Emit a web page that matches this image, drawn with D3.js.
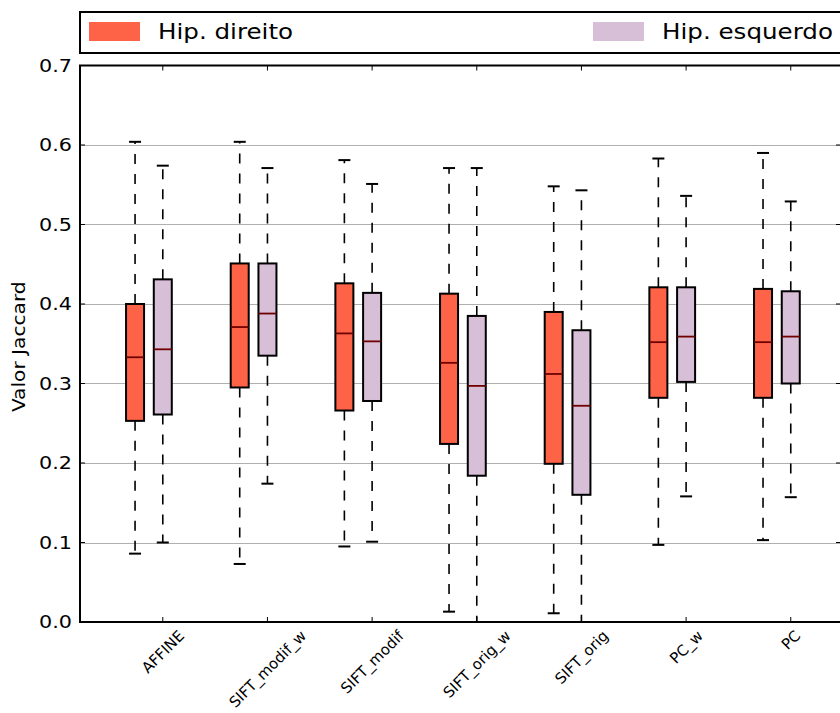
<!DOCTYPE html>
<html>
<head>
<meta charset="utf-8">
<script src="https://cdn.jsdelivr.net/npm/d3@7"></script>
<style>
  html, body { margin: 0; padding: 0; background: #fff; overflow: hidden; }
  text { font-family: "DejaVu Sans", sans-serif; fill: #000; }
</style>
</head>
<body>
<div id="chart"></div>
<script>
'use strict';

// categories on the x axis
var categories = ['AFFINE', 'SIFT_modif_w', 'SIFT_modif', 'SIFT_orig_w', 'SIFT_orig', 'PC_w', 'PC'];

// Hip. direito (right hemisphere) box stats
var direitoLow    = [0.086, 0.073, 0.095, 0.013, 0.011, 0.097, 0.103];
var direitoQ1     = [0.253, 0.295, 0.266, 0.224, 0.199, 0.282, 0.282];
var direitoMedian = [0.333, 0.371, 0.363, 0.326, 0.312, 0.352, 0.352];
var direitoQ3     = [0.400, 0.451, 0.426, 0.413, 0.390, 0.421, 0.419];
var direitoHigh   = [0.604, 0.604, 0.581, 0.571, 0.548, 0.583, 0.590];

// Hip. esquerdo (left hemisphere) box stats
var esquerdoLow    = [0.100, 0.174, 0.101, 0.000, 0.000, 0.158, 0.157];
var esquerdoQ1     = [0.261, 0.335, 0.278, 0.184, 0.160, 0.302, 0.300];
var esquerdoMedian = [0.343, 0.388, 0.353, 0.297, 0.272, 0.359, 0.359];
var esquerdoQ3     = [0.431, 0.451, 0.414, 0.385, 0.367, 0.421, 0.416];
var esquerdoHigh   = [0.574, 0.571, 0.551, 0.571, 0.543, 0.536, 0.529];

var yTicks = [0.0, 0.1, 0.2, 0.3, 0.4, 0.5, 0.6, 0.7];
var seriesNames = ['Hip. direito', 'Hip. esquerdo'];

var moduleJaccardBoxplot = (function() {

    var init = function() {
        var width = 840, height = 713;
        var left = 80, right = 841, top = 65.5, bottom = 622;

        var svg = d3.select('#chart').append('svg')
            .attr('width', width)
            .attr('height', height);

        var y = d3.scaleLinear().domain([0, 0.7]).range([bottom, top]);
        // one unit per category, ticks sit on the second box of each pair
        var x = d3.scaleLinear().domain([-0.791, 6.48]).range([left, right]);

        var colors = ['#ff6347', '#d8bfd8'];
        var offsets = [-0.265, 0];
        var boxW = 18, capW = 12;

        // grid
        svg.append('g').selectAll('line')
            .data(yTicks.slice(1, -1))
            .enter().append('line')
            .attr('x1', left).attr('x2', right)
            .attr('y1', function(d) { return Math.round(y(d)) + 0.5; })
            .attr('y2', function(d) { return Math.round(y(d)) + 0.5; })
            .attr('stroke', '#b0b0b0')
            .attr('stroke-width', 1);

        var series = [
            { low: direitoLow, q1: direitoQ1, med: direitoMedian, q3: direitoQ3, high: direitoHigh },
            { low: esquerdoLow, q1: esquerdoQ1, med: esquerdoMedian, q3: esquerdoQ3, high: esquerdoHigh }
        ];

        series.forEach(function(s, si) {
            var g = svg.append('g');
            categories.forEach(function(c, i) {
                var cx = x(i + offsets[si]);
                // whiskers
                [[s.q3[i], s.high[i]], [s.q1[i], s.low[i]]].forEach(function(w) {
                    g.append('line')
                        .attr('x1', cx).attr('x2', cx)
                        .attr('y1', y(w[0])).attr('y2', y(w[1]))
                        .attr('stroke', '#000')
                        .attr('stroke-width', 1.6)
                        .attr('stroke-dasharray', '10,10');
                    g.append('line')
                        .attr('x1', cx - capW / 2).attr('x2', cx + capW / 2)
                        .attr('y1', y(w[1])).attr('y2', y(w[1]))
                        .attr('stroke', '#000')
                        .attr('stroke-width', 2);
                });
                g.append('rect')
                    .attr('x', cx - boxW / 2)
                    .attr('y', y(s.q3[i]))
                    .attr('width', boxW)
                    .attr('height', y(s.q1[i]) - y(s.q3[i]))
                    .attr('fill', colors[si])
                    .attr('stroke', '#000')
                    .attr('stroke-width', 2);
                g.append('line')
                    .attr('x1', cx - boxW / 2).attr('x2', cx + boxW / 2)
                    .attr('y1', y(s.med[i])).attr('y2', y(s.med[i]))
                    .attr('stroke', '#6e0000')
                    .attr('stroke-width', 1.8);
            });
        });

        // spines
        svg.append('rect')
            .attr('x', left).attr('y', top)
            .attr('width', right - left).attr('height', bottom - top)
            .attr('fill', 'none')
            .attr('stroke', '#000')
            .attr('stroke-width', 2);

        // inward ticks
        var tk = svg.append('g').attr('stroke', '#000').attr('stroke-width', 1);
        yTicks.forEach(function(t) {
            tk.append('line').attr('x1', left).attr('x2', left + 5)
                .attr('y1', y(t)).attr('y2', y(t));
            tk.append('line').attr('x1', right - 5).attr('x2', right)
                .attr('y1', y(t)).attr('y2', y(t));
        });
        categories.forEach(function(c, i) {
            tk.append('line').attr('x1', x(i)).attr('x2', x(i))
                .attr('y1', bottom).attr('y2', bottom - 5);
            tk.append('line').attr('x1', x(i)).attr('x2', x(i))
                .attr('y1', top).attr('y2', top + 5);
        });

        // y tick labels
        svg.append('g').selectAll('text')
            .data(yTicks)
            .enter().append('text')
            .attr('transform', function(d) { return 'translate(' + (left - 8) + ',' + y(d) + ') scale(1.15,1)'; })
            .attr('text-anchor', 'end')
            .attr('dy', '0.36em')
            .style('font-size', '18px')
            .text(function(d) { return d3.format('.1f')(d); });

        // x tick labels: rotated 45deg, centred on the tick, top under the axis
        var fs = 15;
        svg.append('g').selectAll('text')
            .data(categories)
            .enter().append('text')
            .attr('text-anchor', 'middle')
            .attr('dy', '0.36em')
            .style('font-size', fs + 'px')
            .text(function(d) { return d; })
            .attr('transform', function(d, i) {
                var len = this.getComputedTextLength();
                var half = (len + 0.75 * fs) / (2 * Math.SQRT2);
                return 'translate(' + x(i) + ',' + (bottom + 7 + half) + ') rotate(-45)';
            });

        // y label
        svg.append('text')
            .attr('transform', 'translate(25,' + ((top + bottom) / 2 + 3) + ') rotate(-90) scale(1.12,1)')
            .attr('text-anchor', 'middle')
            .style('font-size', '18px')
            .text('Valor Jaccard');

        // legend
        var lg = svg.append('g');
        lg.append('rect')
            .attr('x', left).attr('y', 12)
            .attr('width', 800).attr('height', 41)
            .attr('fill', '#fff')
            .attr('stroke', '#000')
            .attr('stroke-width', 2);
        var legendX = [89, 593];
        seriesNames.forEach(function(n, i) {
            lg.append('rect')
                .attr('x', legendX[i]).attr('y', 22)
                .attr('width', 51).attr('height', 19)
                .attr('fill', colors[i]);
            lg.append('text')
                .attr('transform', 'translate(' + (legendX[i] + 69) + ',39) scale(1.17,1)')
                .style('font-size', '21px')
                .text(n);
        });
    };

    return { init: init };
})();

moduleJaccardBoxplot.init();
</script>
</body>
</html>
